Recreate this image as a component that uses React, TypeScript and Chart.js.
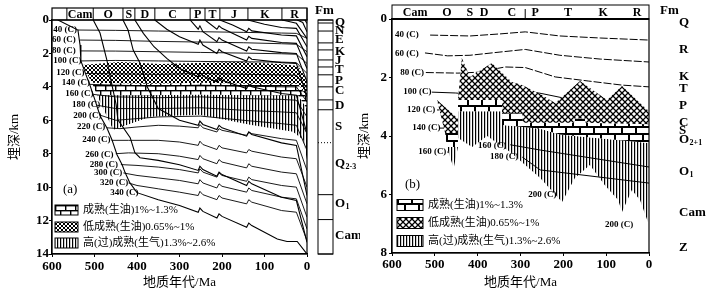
import React, { useEffect, useRef } from "react";
import { Chart, registerables } from "chart.js";

Chart.register(...registerables);

type Pt = [number, number];

const SERIF = '"Liberation Serif", "Noto Sans CJK SC", serif';

// ---------- shared ----------
const xTitle = "地质年代/Ma";
const yTitle = "埋深/km";
const legendTexts = ["成熟(生油)1%~1.3%", "低成熟(生油)0.65%~1%", "高(过)成熟(生气)1.3%~2.6%"];
const legendKinds = ["brick", "cross", "vert"];

// ---------- panel (a) ----------
const stripNamesA = ["Cam", "O", "S", "D", "C", "P", "T", "J", "K", "R"];
const stripBoundsA = [565, 503, 433, 405, 358, 275, 240, 205, 139, 59, 0];
const fmNamesA = ["Q", "N", "E", "K", "J", "T", "P", "C", "D", "S", "Q2-3", "O1", "Cam"];
const fmLabelDepthA = [0.15, 0.65, 1.2, 1.9, 2.45, 2.95, 3.6, 4.25, 5.1, 6.4, 8.6, 11.0, 12.9];
const fmBoundsA = [0, 0.18, 0.66, 1.37, 1.79, 2.39, 2.81, 3.28, 4.0, 4.78, 5.37, 10.45, 11.94, 14];
const fmDottedA = [7.34];

const isoNamesA = ["40 (C)", "60 (C)", "80 (C)", "100 (C)", "120 (C)", "140 (C)", "160 (C)", "180 (C)", "200 (C)", "220 (C)", "240 (C)", "260 (C)", "280 (C)", "300 (C)", "320 (C)", "340 (C)"];
const isoLabelAtA: Pt[] = [[597, 0.6], [600, 1.2], [600, 1.85], [597, 2.45], [590, 3.17], [577, 3.77], [569, 4.43], [553, 5.09], [550, 5.75], [541, 6.4], [529, 7.18], [522, 8.08], [511, 8.68], [501, 9.16], [487, 9.75], [463, 10.35]];

// burial curves (a)
const burialCamA: Pt[] = [[586, 0], [539, 0.6], [534, 1.5], [532, 2.45], [520, 3.28], [511, 3.88], [499, 4.78], [487, 5.73], [471, 6.45], [459, 7.16], [447, 8.06], [435, 8.66], [428, 9.13], [417, 9.73], [400, 10.33], [350, 10.75], [300, 11.1], [256, 11.5], [252, 11.25], [245, 11.45], [212, 11.85], [207, 11.6], [200, 11.75], [142, 12.4], [137, 12.15], [130, 12.3], [70, 13.1], [47, 13.25], [23, 13.25], [3, 13.9], [0, 14]];
const burialOA: Pt[] = [[503, 0], [487, 0.78], [471, 2.39], [459, 3.88], [449, 5.07], [445, 5.97], [416, 7.04], [405, 7.94], [393, 8.24], [350, 8.4], [300, 8.66], [256, 9.0], [252, 8.75], [245, 8.95], [212, 9.35], [207, 9.1], [200, 9.25], [142, 9.9], [137, 9.65], [130, 9.8], [60, 10.6], [25, 10.8], [0, 13.3]];
const burialSA: Pt[] = [[433, 0], [421, 0.6], [409, 1.8], [393, 2.57], [376, 4.0], [350, 5.3], [300, 6.0], [256, 6.3], [252, 6.05], [245, 6.25], [212, 6.55], [207, 6.3], [200, 6.45], [142, 6.95], [137, 6.7], [130, 6.85], [60, 7.35], [25, 7.5], [0, 10.5]];
const burialDA: Pt[] = [[405, 0], [385, 0.8], [360, 1.6], [330, 2.3], [300, 2.9], [256, 3.4], [252, 3.15], [245, 3.35], [212, 3.7], [207, 3.45], [200, 3.6], [142, 4.1], [137, 3.85], [130, 4.0], [60, 4.4], [25, 4.5], [0, 6.8]];
const burialCA: Pt[] = [[358, 0], [330, 0.55], [300, 1.0], [256, 1.45], [252, 1.2], [245, 1.5], [212, 2.0], [207, 1.75], [200, 1.9], [142, 2.45], [137, 2.2], [130, 2.35], [60, 2.55], [25, 2.6], [0, 4.6]];
const burialPA: Pt[] = [[275, 0], [256, 0.55], [252, 0.35], [245, 0.7], [212, 1.3], [207, 1.05], [200, 1.2], [142, 1.85], [137, 1.6], [130, 1.75], [60, 1.95], [25, 2.0], [0, 3.7]];
const burialTA: Pt[] = [[240, 0], [212, 0.55], [207, 0.35], [200, 0.5], [142, 1.2], [137, 0.98], [130, 1.1], [60, 1.35], [25, 1.4], [0, 2.9]];
const burialJA: Pt[] = [[205, 0], [175, 0.3], [142, 0.7], [137, 0.5], [130, 0.65], [60, 0.9], [25, 0.95], [0, 2.2]];
const burialKA: Pt[] = [[139, 0], [100, 0.25], [60, 0.45], [25, 0.5], [0, 1.6]];
const burialEA: Pt[] = [[59, 0], [40, 0.1], [25, 0.2], [0, 1.1]];
const burialNA: Pt[] = [[23, 0], [10, 0.15], [0, 0.7]];
const burialQA: Pt[] = [[5, 0], [0, 0.2]];

// isotherms (a)
const iso40A: Pt[] = [[539, 0.6], [450, 0.62], [350, 0.66], [250, 0.7], [150, 0.74], [60, 0.78], [25, 0.8], [0, 1.1]];
const iso60A: Pt[] = [[534, 1.2], [450, 1.22], [350, 1.28], [250, 1.32], [150, 1.36], [60, 1.42], [25, 1.45], [0, 1.9]];
const iso80A: Pt[] = [[533, 1.85], [450, 1.86], [350, 1.9], [250, 1.94], [150, 1.98], [60, 2.02], [25, 2.05], [0, 2.6]];
const iso100A: Pt[] = [[532, 2.45], [450, 2.42], [350, 2.45], [250, 2.48], [150, 2.5], [60, 2.52], [25, 2.55], [0, 3.2]];
const iso120A: Pt[] = [[521, 3.2], [450, 3.22], [350, 3.25], [250, 3.2], [150, 3.25], [60, 3.28], [25, 3.3], [0, 4.1]];
const iso140A: Pt[] = [[511, 3.85], [450, 3.9], [350, 3.95], [250, 3.9], [150, 3.95], [60, 4.0], [25, 4.0], [0, 4.9]];
const iso160A: Pt[] = [[503, 4.45], [450, 4.6], [350, 4.65], [250, 4.6], [150, 4.7], [60, 4.75], [25, 4.8], [0, 5.8]];
const iso180A: Pt[] = [[494, 5.1], [450, 5.3], [350, 5.3], [250, 5.25], [150, 5.4], [60, 5.5], [25, 5.55], [0, 6.8]];
const iso200A: Pt[] = [[486, 5.7], [450, 6.0], [400, 5.9], [350, 5.8], [250, 5.75], [150, 6.0], [60, 6.2], [25, 6.3], [0, 7.8]];
const iso220A: Pt[] = [[471, 6.45], [440, 6.5], [400, 6.4], [350, 6.3], [300, 6.35], [256, 6.45], [252, 6.25], [245, 6.45], [212, 6.7], [207, 6.5], [200, 6.6], [142, 6.9], [137, 6.7], [130, 6.8], [60, 7.1], [25, 7.2], [0, 9.0]];
const iso240A: Pt[] = [[460, 7.2], [420, 7.2], [350, 7.2], [300, 7.3], [256, 7.5], [252, 7.25], [245, 7.45], [212, 7.75], [207, 7.5], [200, 7.65], [142, 7.95], [137, 7.75], [130, 7.85], [60, 8.2], [25, 8.3], [0, 10.0]];
const iso260A: Pt[] = [[450, 8.0], [420, 7.95], [350, 8.0], [300, 8.15], [256, 8.35], [252, 8.1], [245, 8.3], [212, 8.6], [207, 8.35], [200, 8.5], [142, 8.85], [137, 8.6], [130, 8.75], [60, 9.1], [25, 9.2], [0, 11.0]];
const iso280A: Pt[] = [[438, 8.65], [400, 8.7], [350, 8.8], [300, 8.95], [256, 9.15], [252, 8.9], [245, 9.1], [212, 9.4], [207, 9.15], [200, 9.3], [142, 9.65], [137, 9.4], [130, 9.55], [60, 9.9], [25, 10.0], [0, 11.8]];
const iso300A: Pt[] = [[432, 9.15], [400, 9.3], [350, 9.45], [300, 9.6], [256, 9.8], [252, 9.55], [245, 9.75], [212, 10.05], [207, 9.8], [200, 9.95], [142, 10.3], [137, 10.05], [130, 10.2], [60, 10.6], [25, 10.7], [0, 12.5]];
const iso320A: Pt[] = [[420, 9.75], [400, 9.9], [350, 10.1], [300, 10.3], [256, 10.5], [252, 10.25], [245, 10.45], [212, 10.75], [207, 10.5], [200, 10.65], [142, 11.0], [137, 10.75], [130, 10.9], [60, 11.4], [25, 11.5], [0, 13.2]];

// maturity zones (a)
const crossTopA: Pt[] = [[529, 2.69], [440, 2.51], [346, 2.63], [252, 2.57], [158, 2.51], [64, 2.63], [21, 2.75], [0, 3.58]];
const crossBotA: Pt[] = [[529, 2.69], [506, 3.76], [369, 3.82], [252, 3.76], [134, 3.82], [21, 3.82], [0, 4.6]];
const brickTopA: Pt[] = [[506, 3.76], [369, 3.82], [252, 3.76], [134, 3.82], [21, 3.82], [0, 4.6]];
const brickBotA: Pt[] = [[506, 3.76], [494, 4.5], [369, 4.5], [252, 4.45], [134, 4.5], [21, 4.5], [0, 5.3]];
const vertTopA: Pt[] = [[494, 4.5], [369, 4.5], [252, 4.45], [134, 4.5], [21, 4.5], [0, 5.3]];
const vertBotA: Pt[] = [[494, 4.5], [456, 6.57], [409, 6.15], [369, 5.79], [252, 5.67], [134, 6.27], [33, 6.69], [9, 7.16], [0, 8.36]];

// ---------- panel (b) ----------
const stripNamesB = ["Cam", "O", "S", "D", "C", "P", "T", "K", "R"];
const stripCentersB = [546, 472, 418, 385, 320, 266, 189, 107, 28];
const stripSepsB = [289];
const fmNamesB = ["Q", "R", "K", "T", "P", "C", "S", "O2+1", "O1", "Cam", "Z"];
const fmLabelDepthB = [0.14, 1.06, 1.98, 2.39, 2.97, 3.56, 3.83, 4.14, 5.23, 6.63, 7.8];

const isoNamesB = ["40 (C)", "60 (C)", "80 (C)", "100 (C)", "120 (C)", "140 (C)", "160 (C)", "160 (C)", "180 (C)", "200 (C)", "200 (C)"];
const isoLabelAtB: Pt[] = [[593, 0.55], [593, 1.2], [581, 1.85], [574, 2.5], [565, 3.11], [553, 3.73], [539, 4.55], [399, 4.34], [371, 4.72], [282, 6.02], [103, 7.04]];

const iso40B: Pt[] = [[511, 0.55], [418, 0.58], [348, 0.51], [289, 0.44], [208, 0.58], [114, 0.65], [0, 0.72]];
const iso60B: Pt[] = [[523, 1.16], [470, 1.26], [418, 1.24], [348, 1.13], [289, 1.04], [208, 1.24], [114, 1.37], [0, 1.47]];
const iso80B: Pt[] = [[521, 1.83], [446, 1.85], [400, 1.82], [336, 1.64], [289, 1.66], [219, 1.98], [142, 2.12], [63, 2.26], [0, 2.32]];
const iso100B: Pt[] = [[507, 2.5], [451, 2.53], [400, 2.6], [336, 2.6], [289, 2.45], [250, 2.55], [200, 2.7], [120, 2.95], [0, 3.2]];
const iso120B: Pt[] = [[495, 3.11], [486, 3.11]];
const iso140B: Pt[] = [[490, 3.73], [478, 3.73]];
const iso160B: Pt[] = [[471, 4.55], [463, 4.55]];
const iso160bB: Pt[] = [[324, 4.3], [254, 4.48], [0, 5.06]];
const iso180B: Pt[] = [[296, 4.72], [254, 5.16], [0, 5.61]];

const wCrossTopB: Pt[] = [[495, 2.77], [446, 3.4]];
const wCrossBotB: Pt[] = [[495, 2.77], [476, 3.9], [446, 3.9]];
const wBrickTopB: Pt[] = [[476, 3.9], [446, 3.9]];
const wBrickBotB: Pt[] = [[476, 3.9], [472, 4.38], [446, 4.38]];
const wVertTopB: Pt[] = [[472, 4.38], [446, 4.38]];
const wVertBotB: Pt[] = [[472, 4.38], [456, 5.1], [446, 4.38]];

const mCrossTopB: Pt[] = [[446, 2.77], [437, 1.33], [418, 1.98], [367, 1.5], [320, 2.15], [296, 2.26], [250, 2.6], [219, 2.87], [161, 2.12], [98, 2.77], [63, 2.29], [0, 3.15]];
const mCrossBotB: Pt[] = [[446, 2.77], [343, 2.77], [341, 3.22], [296, 3.22], [294, 3.55], [175, 3.55], [173, 3.4], [150, 3.4], [148, 3.55], [0, 3.6]];
const mBrickTopB: Pt[] = [[446, 2.77], [343, 2.77], [341, 3.22], [296, 3.22], [294, 3.55], [175, 3.55], [173, 3.4], [150, 3.4], [148, 3.55], [0, 3.6]];
const mBrickBotB: Pt[] = [[446, 3.15], [343, 3.15], [341, 3.62], [254, 3.75], [208, 3.95], [0, 4.24]];
const mVertTopB: Pt[] = [[446, 3.15], [343, 3.15], [341, 3.62], [254, 3.75], [208, 3.95], [0, 4.24]];
const mVertBotB: Pt[] = [[446, 4.07], [413, 4.38], [378, 4.0], [324, 4.55], [254, 5.44], [203, 6.26], [173, 5.44], [138, 4.99], [103, 5.68], [72, 6.19], [63, 6.6], [40, 5.85], [21, 6.19], [0, 7.04]];

// ---------- helpers ----------
const toXY = (a: Pt[]) => a.map(([x, y]) => ({ x, y }));

function lineDs(data: Pt[], w = 1, order = 0, dash: number[] = []) {
  return { data: toXY(data), borderColor: "#000", borderWidth: w, borderDash: dash, pointRadius: 0, fill: false, tension: 0, order };
}

function addRegion(ds: any[], top: Pt[], bot: Pt[], pat: any, order = 5) {
  const i = ds.length;
  ds.push({ data: toXY(top), borderColor: "rgba(0,0,0,0)", borderWidth: 1, pointRadius: 0, backgroundColor: pat, fill: { target: i + 1 }, tension: 0, order });
  ds.push({ data: toXY(bot), borderColor: "rgba(0,0,0,0)", borderWidth: 1, pointRadius: 0, fill: false, tension: 0, order });
}

function buildPatterns(ctx: CanvasRenderingContext2D, big: boolean) {
  const mk = (w: number, h: number, draw: (g: CanvasRenderingContext2D) => void) => {
    const c = document.createElement("canvas");
    c.width = w;
    c.height = h;
    const g = c.getContext("2d") as CanvasRenderingContext2D;
    g.fillStyle = "#fff";
    g.fillRect(0, 0, w, h);
    g.fillStyle = "#000";
    g.strokeStyle = "#000";
    draw(g);
    return ctx.createPattern(c, "repeat") as CanvasPattern;
  };
  const s = big ? 6 : 4;
  const cross = mk(s, s, (g) => {
    g.lineWidth = big ? 1.3 : 1;
    g.beginPath();
    g.moveTo(-1, -1);
    g.lineTo(s + 1, s + 1);
    g.moveTo(s + 1, -1);
    g.lineTo(-1, s + 1);
    g.stroke();
  });
  const bw = big ? 14 : 10;
  const bh = big ? 7 : 5;
  const lw = big ? 2 : 1.4;
  const brick = mk(bw, bh * 2, (g) => {
    g.fillRect(0, 0, bw, lw);
    g.fillRect(0, bh, bw, lw);
    g.fillRect(0, 0, lw, bh);
    g.fillRect(bw / 2, bh, lw, bh);
  });
  const vs = 3;
  const vert = mk(vs, 4, (g) => {
    g.fillRect(0, 0, 1.2, 4);
  });
  return { cross, brick, vert } as Record<string, CanvasPattern>;
}

function subText(ctx: CanvasRenderingContext2D, s: string, x: number, y: number, size: number) {
  const m = s.match(/^([A-Z])(\d.*)$/);
  ctx.font = `bold ${size}px ${SERIF}`;
  if (!m) {
    ctx.fillText(s, x, y);
    return;
  }
  ctx.fillText(m[1], x, y);
  const w = ctx.measureText(m[1]).width;
  ctx.font = `bold ${Math.round(size * 0.6)}px ${SERIF}`;
  ctx.fillText(m[2], x + w + 0.5, y + size * 0.25);
}

function drawLegend(ctx: CanvasRenderingContext2D, pats: Record<string, CanvasPattern>, bx: number, bw: number, bh: number, ys: number[], tx: number, size: number) {
  ctx.textAlign = "left";
  ctx.textBaseline = "middle";
  ctx.font = `${size}px ${SERIF}`;
  ys.forEach((yc, i) => {
    ctx.fillStyle = pats[legendKinds[i]];
    ctx.fillRect(bx, yc - bh / 2, bw, bh);
    ctx.lineWidth = 1;
    ctx.strokeStyle = "#000";
    ctx.strokeRect(bx, yc - bh / 2, bw, bh);
    ctx.fillStyle = "#000";
    ctx.fillText(legendTexts[i], tx, yc);
  });
}

function scalesCfg(maxDepth: number, yWidth: number, xHeight: number, yTitlePad: number, xTickPad: number, xTitlePad: number, yTickPad: number) {
  return {
    x: {
      type: "linear",
      min: 0,
      max: 600,
      reverse: true,
      afterFit: (s: any) => {
        s.height = xHeight;
      },
      ticks: { stepSize: 100, color: "#000", font: { family: SERIF, size: 13, weight: "bold" }, padding: xTickPad, maxRotation: 0 },
      grid: { display: true, drawOnChartArea: false, tickLength: 3, color: "#000" },
      border: { display: true, color: "#000", width: 1.2 },
      title: { display: true, text: xTitle, color: "#000", font: { family: SERIF, size: 13 }, padding: { top: 0, bottom: xTitlePad } },
    },
    y: {
      type: "linear",
      min: 0,
      max: maxDepth,
      reverse: true,
      afterFit: (s: any) => {
        s.width = yWidth;
      },
      ticks: { stepSize: 2, color: "#000", font: { family: SERIF, size: 13, weight: "bold" }, padding: yTickPad },
      grid: { display: true, drawOnChartArea: false, tickLength: 3, color: "#000" },
      border: { display: true, color: "#000", width: 1.2 },
      title: { display: true, text: yTitle, color: "#000", font: { family: SERIF, size: 13 }, padding: { top: yTitlePad, bottom: 0 } },
    },
  };
}

function isoLabels(ctx: CanvasRenderingContext2D, xs: any, ys: any, names: string[], at: Pt[]) {
  ctx.font = `bold 9px ${SERIF}`;
  ctx.textAlign = "left";
  ctx.textBaseline = "middle";
  ctx.fillStyle = "#000";
  names.forEach((n, i) => {
    ctx.fillText(n, xs.getPixelForValue(at[i][0]), ys.getPixelForValue(at[i][1]));
  });
}

function hline(ctx: CanvasRenderingContext2D, x1: number, y1: number, x2: number, y2: number) {
  ctx.beginPath();
  ctx.moveTo(x1, y1);
  ctx.lineTo(x2, y2);
  ctx.stroke();
}

// ---------- charts ----------
function makeChartA(canvas: HTMLCanvasElement) {
  const ctx = canvas.getContext("2d") as CanvasRenderingContext2D;
  const pats = buildPatterns(ctx, false);
  const ds: any[] = [];
  [burialCamA, burialOA, burialSA, burialDA, burialCA, burialPA, burialTA, burialJA, burialKA, burialEA, burialNA, burialQA].forEach((b) => ds.push(lineDs(b, 1.1, 0)));
  [iso40A, iso60A, iso80A, iso100A, iso120A, iso140A, iso160A, iso180A, iso200A, iso220A, iso240A, iso260A, iso280A, iso300A, iso320A].forEach((b) => ds.push(lineDs(b, 0.9, 0)));
  addRegion(ds, crossTopA, crossBotA, pats.cross);
  addRegion(ds, brickTopA, brickBotA, pats.brick);
  addRegion(ds, vertTopA, vertBotA, pats.vert);

  const decor = {
    id: "decorA",
    afterDraw(chart: any) {
      const c = chart.ctx as CanvasRenderingContext2D;
      const ca = chart.chartArea;
      const xs = chart.scales.x;
      const ys = chart.scales.y;
      c.save();
      c.strokeStyle = "#000";
      c.fillStyle = "#000";
      c.lineWidth = 1.2;
      c.strokeRect(ca.left, ca.top, ca.right - ca.left, ca.bottom - ca.top);
      const st = 8;
      c.strokeRect(ca.left, st, ca.right - ca.left, ca.top - st);
      c.lineWidth = 1;
      c.textAlign = "center";
      c.textBaseline = "middle";
      c.font = `bold 12px ${SERIF}`;
      for (let i = 0; i < stripBoundsA.length; i++) {
        const xp = xs.getPixelForValue(stripBoundsA[i]);
        hline(c, xp, st, xp, ca.top);
        if (i < stripNamesA.length) {
          const xn = xs.getPixelForValue(stripBoundsA[i + 1]);
          c.fillText(stripNamesA[i], (xp + xn) / 2, (st + ca.top) / 2 + 1);
        }
      }
      const fx0 = ca.right + 11;
      const fx1 = ca.right + 26;
      c.strokeRect(fx0, ys.getPixelForValue(0), fx1 - fx0, ys.getPixelForValue(14) - ys.getPixelForValue(0));
      fmBoundsA.forEach((d) => hline(c, fx0, ys.getPixelForValue(d), fx1, ys.getPixelForValue(d)));
      c.setLineDash([1, 2]);
      fmDottedA.forEach((d) => hline(c, fx0, ys.getPixelForValue(d), fx1, ys.getPixelForValue(d)));
      c.setLineDash([]);
      c.font = `bold 13px ${SERIF}`;
      c.textAlign = "left";
      c.fillText("Fm", ca.right + 8, 11);
      fmNamesA.forEach((n, i) => subText(c, n, ca.right + 28, ys.getPixelForValue(fmLabelDepthA[i]), 13));
      isoLabels(c, xs, ys, isoNamesA, isoLabelAtA);
      c.font = `13px ${SERIF}`;
      c.textAlign = "left";
      c.fillText("(a)", ca.left + 11, ca.bottom - 64);
      drawLegend(c, pats, ca.left + 3, 23, 10, [ca.bottom - 44, ca.bottom - 27, ca.bottom - 11], ca.left + 31, 11);
      c.restore();
    },
  };

  return new Chart(canvas, {
    type: "line",
    data: { datasets: ds },
    options: {
      responsive: false,
      animation: false,
      devicePixelRatio: 1,
      events: [],
      layout: { padding: { left: 0, right: 53, top: 20, bottom: 0 } },
      plugins: { legend: { display: false }, tooltip: { enabled: false } },
      scales: scalesCfg(14, 52, 41, 7, 2, 5, 0) as any,
    },
    plugins: [decor],
  } as any);
}

function makeChartB(canvas: HTMLCanvasElement) {
  const ctx = canvas.getContext("2d") as CanvasRenderingContext2D;
  const pats = buildPatterns(ctx, true);
  const ds: any[] = [];
  [iso40B, iso60B, iso80B].forEach((b) => ds.push(lineDs(b, 1, 10, [8, 2])));
  [iso100B, iso120B, iso140B, iso160B].forEach((b) => ds.push(lineDs(b, 1, 10)));
  [iso160bB, iso180B].forEach((b) => ds.push(lineDs(b, 1, 0)));
  addRegion(ds, wCrossTopB, wCrossBotB, pats.cross);
  addRegion(ds, wBrickTopB, wBrickBotB, pats.brick);
  addRegion(ds, wVertTopB, wVertBotB, pats.vert);
  addRegion(ds, mCrossTopB, mCrossBotB, pats.cross);
  addRegion(ds, mBrickTopB, mBrickBotB, pats.brick);
  addRegion(ds, mVertTopB, mVertBotB, pats.vert);

  const decor = {
    id: "decorB",
    afterDraw(chart: any) {
      const c = chart.ctx as CanvasRenderingContext2D;
      const ca = chart.chartArea;
      const xs = chart.scales.x;
      const ys = chart.scales.y;
      c.save();
      c.strokeStyle = "#000";
      c.fillStyle = "#000";
      c.lineWidth = 1.2;
      c.strokeRect(ca.left, ca.top, ca.right - ca.left, ca.bottom - ca.top);
      const st = 5;
      c.lineWidth = 1;
      c.strokeRect(ca.left, st, ca.right - ca.left, ca.top - st);
      c.lineWidth = 2;
      hline(c, ca.left, ca.top, ca.right, ca.top);
      c.lineWidth = 1;
      stripSepsB.forEach((a) => {
        const xp = xs.getPixelForValue(a);
        hline(c, xp, st + 4, xp, ca.top);
      });
      c.textAlign = "center";
      c.textBaseline = "middle";
      c.font = `bold 12px ${SERIF}`;
      stripNamesB.forEach((n, i) => c.fillText(n, xs.getPixelForValue(stripCentersB[i]), (st + ca.top) / 2 + 1));
      c.font = `bold 13px ${SERIF}`;
      c.textAlign = "left";
      c.fillText("Fm", ca.right + 11, 11);
      fmNamesB.forEach((n, i) => subText(c, n, ca.right + 30, ys.getPixelForValue(fmLabelDepthB[i]), 13));
      isoLabels(c, xs, ys, isoNamesB, isoLabelAtB);
      c.font = `13px ${SERIF}`;
      c.textAlign = "left";
      c.fillText("(b)", ca.left + 13, ca.bottom - 68);
      drawLegend(c, pats, ca.left + 5, 26, 11, [ca.bottom - 48, ca.bottom - 30, ca.bottom - 12], ca.left + 36, 11);
      c.restore();
    },
  };

  return new Chart(canvas, {
    type: "line",
    data: { datasets: ds },
    options: {
      responsive: false,
      animation: false,
      devicePixelRatio: 1,
      events: [],
      layout: { padding: { left: 0, right: 61, top: 19, bottom: 0 } },
      plugins: { legend: { display: false }, tooltip: { enabled: false } },
      scales: scalesCfg(8, 37, 42, 2, 1, 5, 2) as any,
    },
    plugins: [decor],
  } as any);
}

export default function App() {
  const refA = useRef<HTMLCanvasElement>(null);
  const refB = useRef<HTMLCanvasElement>(null);
  useEffect(() => {
    const a = makeChartA(refA.current as HTMLCanvasElement);
    const b = makeChartB(refB.current as HTMLCanvasElement);
    return () => {
      a.destroy();
      b.destroy();
    };
  }, []);
  return (
    <div style={{ position: "fixed", left: 0, top: 0, width: 710, height: 295, background: "#fff", overflow: "hidden" }}>
      <canvas ref={refA} width={360} height={295} style={{ position: "absolute", left: 0, top: 0 }} />
      <canvas ref={refB} width={355} height={295} style={{ position: "absolute", left: 355, top: 0 }} />
    </div>
  );
}
